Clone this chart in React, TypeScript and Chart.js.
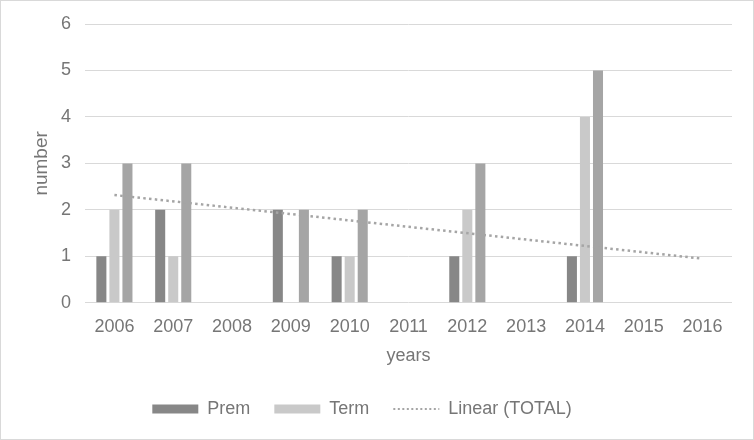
import React, { useEffect, useRef } from "react";
import { Chart, registerables } from "chart.js";

Chart.register(...registerables);

const years = ["2006", "2007", "2008", "2009", "2010", "2011", "2012", "2013", "2014", "2015", "2016"];
const prem = [1, 2, 0, 2, 1, 0, 1, 0, 1, 0, 0];
const term = [2, 1, 0, 0, 1, 0, 2, 0, 4, 0, 0];
const total = [3, 3, 0, 2, 2, 0, 3, 0, 5, 0, 0];
const trendStart = { x: "2006", y: 2.32 };
const trendEnd = { x: "2016", y: 0.95 };
const yTicks = [0, 1, 2, 3, 4, 5, 6];

const FONT = "'Liberation Sans', Arial, sans-serif";
const TXT = "#767676";

const legendShift = {
  id: "legendShift",
  afterLayout(chart: any) {
    const lg = chart.legend;
    if (lg) {
      lg.left -= 19;
      lg.right -= 19;
    }
  },
};

export default function App() {
  const ref = useRef<HTMLCanvasElement | null>(null);
  useEffect(() => {
    document.body.style.margin = "0";
    const ctx = ref.current!;
    const chart = new Chart(ctx, {
      type: "bar",
      data: {
        labels: years,
        datasets: [
          { label: "Prem", data: prem, backgroundColor: "#878787", borderWidth: 0, order: 2 },
          { label: "Term", data: term, backgroundColor: "#c9c9c9", borderWidth: 0, order: 2 },
          { label: "TOTAL", data: total, backgroundColor: "#a5a5a5", borderWidth: 0, order: 2 },
          {
            type: "line",
            label: "Linear (TOTAL)",
            data: [trendStart, trendEnd] as any,
            borderColor: "#a5a5a5",
            backgroundColor: "#a5a5a5",
            borderWidth: 2.5,
            borderDash: [2.5, 3.3],
            borderCapStyle: "butt",
            pointRadius: 0,
            fill: false,
            order: 1,
          } as any,
        ],
      },
      plugins: [legendShift],
      options: {
        animation: false,
        responsive: false,
        maintainAspectRatio: false,
        layout: { padding: { left: 29, right: 21, top: 8, bottom: 11 } },
        datasets: { bar: { categoryPercentage: 0.665, barPercentage: 0.77 } } as any,
        scales: {
          x: {
            grid: { display: false, drawTicks: false },
            border: { display: false },
            ticks: { color: TXT, font: { family: FONT, size: 18 }, padding: 13 },
            title: { display: true, text: "years", color: TXT, font: { family: FONT, size: 18 }, padding: { top: -5, bottom: 9 } },
          },
          y: {
            min: 0,
            max: 6,
            afterBuildTicks: (axis: any) => {
              axis.ticks = yTicks.map((v) => ({ value: v }));
            },
            afterFit: (axis: any) => {
              axis.width = 55;
            },
            grid: { color: "#d9d9d9", lineWidth: 1, drawTicks: false },
            border: { display: false },
            ticks: { color: TXT, font: { family: FONT, size: 18, lineHeight: 1 }, padding: 14 },
            title: { display: true, text: "number", color: TXT, font: { family: FONT, size: 19 }, padding: { top: 0, bottom: 8 } },
          },
        },
        plugins: {
          legend: {
            position: "bottom",
            labels: {
              filter: (item: any) => item.text !== "TOTAL",
              sort: (a: any, b: any) => a.datasetIndex - b.datasetIndex,
              usePointStyle: true,
              pointStyleWidth: 46,
              boxWidth: 46,
              boxHeight: 9,
              padding: 24,
              color: TXT,
              font: { family: FONT, size: 18 },
              generateLabels: (chart: any) => {
                const items = Chart.defaults.plugins.legend.labels.generateLabels(chart);
                return items.map((it: any) => {
                  if (it.text === "Linear (TOTAL)") {
                    return { ...it, pointStyle: "line", lineWidth: 2, lineDash: [2, 2.5], strokeStyle: "#a5a5a5", fillStyle: "#a5a5a5" };
                  }
                  return { ...it, pointStyle: "rect", lineWidth: 0, strokeStyle: it.fillStyle };
                });
              },
            },
          },
          tooltip: { enabled: false },
        },
      },
    });
    return () => chart.destroy();
  }, []);
  return (
    <div
      style={{
        position: "fixed",
        left: 0,
        top: 0,
        width: 754,
        height: 440,
        boxSizing: "border-box",
        border: "1px solid #d9d9d9",
        background: "#fff",
      }}
    >
      <canvas ref={ref} width={752} height={438} style={{ display: "block" }} />
    </div>
  );
}
